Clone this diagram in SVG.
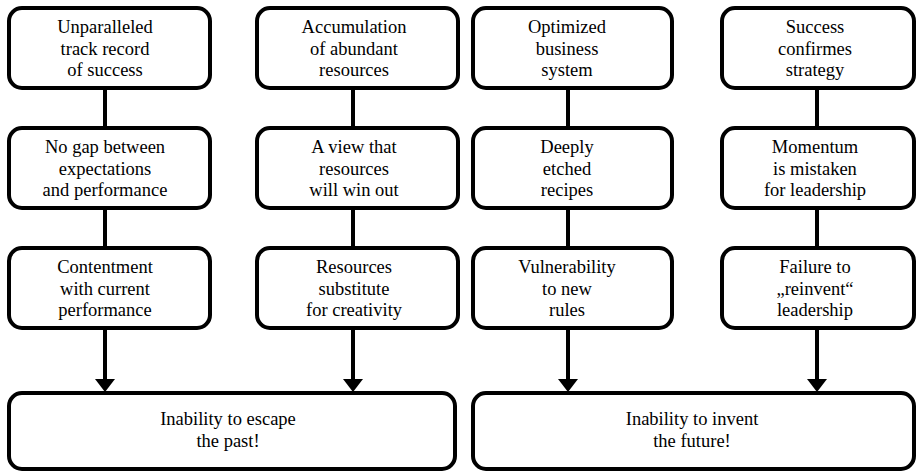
<svg xmlns="http://www.w3.org/2000/svg" width="917" height="472" viewBox="0 0 917 472" font-family="Liberation Serif, DejaVu Serif, serif">
<style>
.b{fill:#fff;stroke:#000;stroke-width:4}
.t{font-size:18.5px;fill:#000;text-anchor:middle}
.c{stroke:#000;stroke-width:4;fill:none}
</style>
<rect width="917" height="472" fill="#fff"/>
<g id="connectors">
<line class="c" x1="105" y1="88" x2="105" y2="128"/>
<line class="c" x1="105" y1="208" x2="105" y2="248"/>
<line class="c" x1="353" y1="88" x2="353" y2="128"/>
<line class="c" x1="353" y1="208" x2="353" y2="248"/>
<line class="c" x1="568" y1="88" x2="568" y2="128"/>
<line class="c" x1="568" y1="208" x2="568" y2="248"/>
<line class="c" x1="817" y1="88" x2="817" y2="128"/>
<line class="c" x1="817" y1="208" x2="817" y2="248"/>
<path d="M105,328 V381" class="c"/>
<path d="M95,379 L115,379 L105,392 Z" fill="#000"/>
<path d="M353,328 V381" class="c"/>
<path d="M343,379 L363,379 L353,392 Z" fill="#000"/>
<path d="M568,328 V381" class="c"/>
<path d="M558,379 L578,379 L568,392 Z" fill="#000"/>
<path d="M817,328 V381" class="c"/>
<path d="M807,379 L827,379 L817,392 Z" fill="#000"/>
</g>
<g id="n1a"><rect class="b" x="9" y="8" width="201" height="80" rx="13"/>
<text class="t" x="105" y="33">Unparalleled</text><text class="t" x="105" y="55">track record</text><text class="t" x="105" y="76">of success</text></g>
<g id="n1b"><rect class="b" x="9" y="128" width="201" height="80" rx="13"/>
<text class="t" x="105" y="153">No gap between</text><text class="t" x="105" y="175">expectations</text><text class="t" x="105" y="196">and performance</text></g>
<g id="n1c"><rect class="b" x="9" y="248" width="201" height="80" rx="13"/>
<text class="t" x="105" y="273">Contentment</text><text class="t" x="105" y="295">with current</text><text class="t" x="105" y="316">performance</text></g>
<g id="n2a"><rect class="b" x="257" y="8" width="201" height="80" rx="13"/>
<text class="t" x="354" y="33">Accumulation</text><text class="t" x="354" y="55">of abundant</text><text class="t" x="354" y="76">resources</text></g>
<g id="n2b"><rect class="b" x="257" y="128" width="201" height="80" rx="13"/>
<text class="t" x="354" y="153">A view that</text><text class="t" x="354" y="175">resources</text><text class="t" x="354" y="196">will win out</text></g>
<g id="n2c"><rect class="b" x="257" y="248" width="201" height="80" rx="13"/>
<text class="t" x="354" y="273">Resources</text><text class="t" x="354" y="295">substitute</text><text class="t" x="354" y="316">for creativity</text></g>
<g id="n3a"><rect class="b" x="473" y="8" width="199" height="80" rx="13"/>
<text class="t" x="567" y="33">Optimized</text><text class="t" x="567" y="55">business</text><text class="t" x="567" y="76">system</text></g>
<g id="n3b"><rect class="b" x="473" y="128" width="199" height="80" rx="13"/>
<text class="t" x="567" y="153">Deeply</text><text class="t" x="567" y="175">etched</text><text class="t" x="567" y="196">recipes</text></g>
<g id="n3c"><rect class="b" x="473" y="248" width="199" height="80" rx="13"/>
<text class="t" x="567" y="273">Vulnerability</text><text class="t" x="567" y="295">to new</text><text class="t" x="567" y="316">rules</text></g>
<g id="n4a"><rect class="b" x="722" y="8" width="192" height="80" rx="13"/>
<text class="t" x="815" y="33">Success</text><text class="t" x="815" y="55">confirmes</text><text class="t" x="815" y="76">strategy</text></g>
<g id="n4b"><rect class="b" x="722" y="128" width="192" height="80" rx="13"/>
<text class="t" x="815" y="153">Momentum</text><text class="t" x="815" y="175">is mistaken</text><text class="t" x="815" y="196">for leadership</text></g>
<g id="n4c"><rect class="b" x="722" y="248" width="192" height="80" rx="13"/>
<text class="t" x="815" y="273">Failure to</text><text class="t" x="815" y="295">„reinvent“</text><text class="t" x="815" y="316">leadership</text></g>
<g id="past"><rect class="b" x="9" y="393" width="446" height="76" rx="13"/>
<text class="t" x="228" y="425">Inability to escape</text><text class="t" x="228" y="447">the past!</text></g>
<g id="future"><rect class="b" x="473" y="393" width="441" height="76" rx="13"/>
<text class="t" x="692" y="425">Inability to invent</text><text class="t" x="692" y="447">the future!</text></g>
</svg>
